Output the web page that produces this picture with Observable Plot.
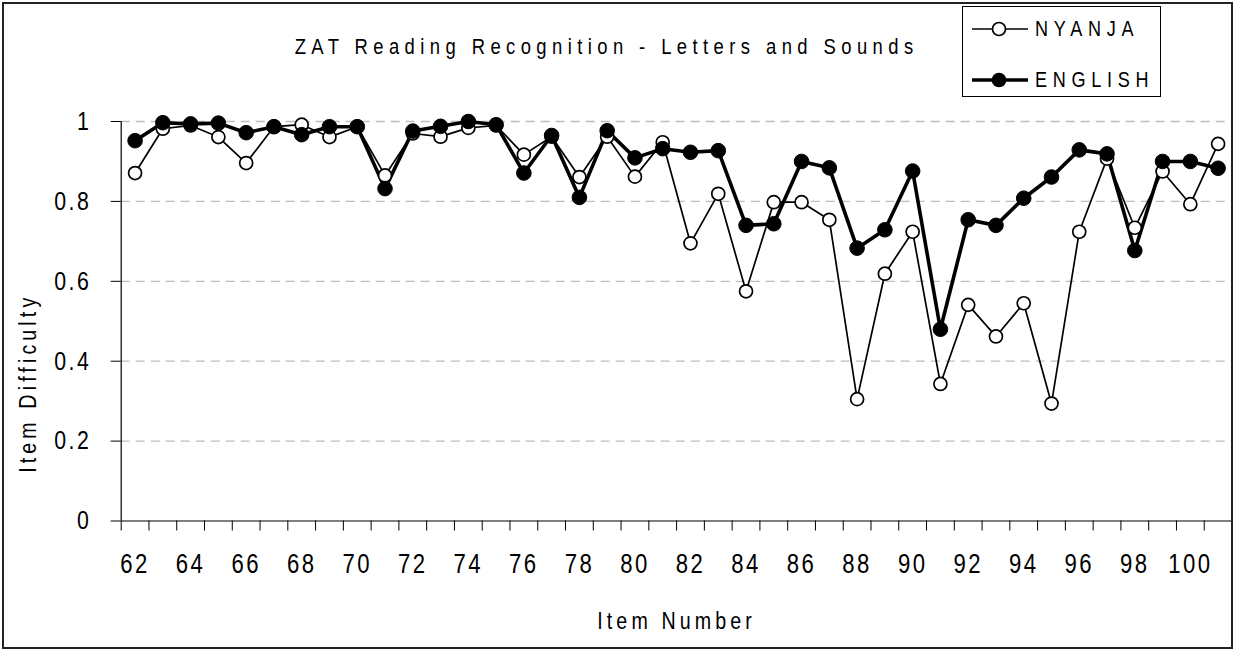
<!DOCTYPE html>
<html><head><meta charset="utf-8">
<script src="https://cdn.jsdelivr.net/npm/d3@7"></script>
<script src="https://cdn.jsdelivr.net/npm/@observablehq/plot@0.6"></script>
<style>
body{margin:0;background:#fff;}
#wrap{position:relative;width:1233px;height:649px;overflow:hidden;font-family:"Liberation Sans",Arial,sans-serif;}
#wrap svg text{letter-spacing:3px;}
#border{position:absolute;left:2px;top:2px;width:1227px;height:643px;border:2px solid #222;pointer-events:none;}
#legend{position:absolute;left:962px;top:6px;width:197px;height:89px;border:1px solid #000;background:#fff;}
.lg{position:absolute;left:8px;height:30px;display:flex;align-items:center;font-size:22px;color:#000;white-space:nowrap;}
.lg svg{margin-right:6px;flex:none;}
.lg span{display:inline-block;letter-spacing:7px;transform:scaleX(0.82);transform-origin:left center;}
</style></head>
<body><div id="wrap"><div id="border"></div></div>
<script>
const title = "ZAT Reading Recognition - Letters and Sounds";
const xLabel = "Item Number";
const yLabel = "Item Difficulty";
const seriesNames = ["NYANJA", "ENGLISH"];
const items = [62,63,64,65,66,67,68,69,70,71,72,73,74,75,76,77,78,79,80,81,82,83,84,85,86,87,88,89,90,91,92,93,94,95,96,97,98,99,100,101];
const nyanja = [0.871,0.982,0.99,0.961,0.896,0.987,0.992,0.961,0.987,0.865,0.97,0.962,0.984,0.99,0.917,0.962,0.861,0.962,0.862,0.948,0.695,0.819,0.575,0.798,0.798,0.754,0.305,0.619,0.724,0.343,0.541,0.462,0.545,0.294,0.724,0.907,0.734,0.875,0.793,0.944];
const english = [0.952,0.997,0.994,0.996,0.972,0.987,0.967,0.987,0.987,0.832,0.976,0.988,1.0,0.992,0.871,0.965,0.81,0.977,0.909,0.932,0.923,0.927,0.74,0.744,0.90,0.884,0.683,0.729,0.876,0.48,0.754,0.74,0.808,0.861,0.929,0.919,0.677,0.90,0.90,0.883];
const xTickLabels = [62,64,66,68,70,72,74,76,78,80,82,84,86,88,90,92,94,96,98,100];
const yTicks = [0,0.2,0.4,0.6,0.8,1];
const yGrid = [0.2,0.4,0.6,0.8,1];

const ny = items.map((item,i)=>({item, value:nyanja[i], series:seriesNames[0]}));
const en = items.map((item,i)=>({item, value:english[i], series:seriesNames[1]}));
const xDomain = [items[0]-0.5, items[items.length-1]+0.5];
const boundaries = d3.range(xDomain[0], xDomain[1]+0.01, 1);
const FONT = '"Liberation Sans",Arial,sans-serif';

const chart = Plot.plot({
  width:1233, height:649,
  marginLeft:120.7, marginRight:1.5, marginTop:121, marginBottom:128.5,
  style:{fontFamily:FONT, fontSize:"25px", color:"#000", background:"transparent", overflow:"visible"},
  x:{domain:xDomain, axis:null},
  y:{domain:[0,1], axis:null},
  marks:[
    Plot.gridY(yGrid, {stroke:"#bdbdbd", strokeOpacity:1, strokeDasharray:"9,6", strokeWidth:1.3}),
    Plot.axisX(boundaries, {tickSize:10, text:null, label:null, stroke:"#000", strokeOpacity:1}),
    Plot.axisX(xTickLabels, {tickSize:0, tickPadding:33, fontSize:27, label:null, tickFormat:d=>String(d)}),
    Plot.axisY(yTicks, {tickSize:10, tickPadding:20, fontSize:26, label:null, tickFormat:d=>String(d), strokeOpacity:1}),
    Plot.ruleY([0], {x1:xDomain[0], x2:xDomain[1], stroke:"#000", strokeWidth:1.2}),
    Plot.ruleX([xDomain[0]], {y1:0, y2:1, stroke:"#000", strokeWidth:1.2}),
    Plot.line(ny, {x:"item", y:"value", stroke:"#000", strokeWidth:1.7}),
    Plot.line(en, {x:"item", y:"value", stroke:"#000", strokeWidth:3.6}),
    Plot.dot(ny, {x:"item", y:"value", r:6.5, fill:"#fff", stroke:"#000", strokeWidth:1.7}),
    Plot.dot(en, {x:"item", y:"value", r:7.3, fill:"#000", stroke:"#000", strokeWidth:1}),
    Plot.text([title], {frameAnchor:"top", textAnchor:"middle", dx:-70, dy:-83, fontSize:22.5, text:d=>d}),
    Plot.text([xLabel], {frameAnchor:"bottom", textAnchor:"middle", dy:108, fontSize:24, text:d=>d}),
    Plot.text([yLabel], {frameAnchor:"left", textAnchor:"middle", dx:-92.7, dy:62, rotate:-90, fontSize:24, text:d=>d})
  ]
});

// condense glyphs horizontally around each text's anchor (narrow typeface look)
const SX = 0.82;
chart.querySelectorAll("text").forEach(t=>{
  const content = t.textContent;
  if (content === title) t.style.letterSpacing = "6.6px";
  if (content === xLabel || content === yLabel) t.style.letterSpacing = "5px";
  const tr = t.getAttribute("transform");
  if (tr) t.setAttribute("transform", tr + ` scale(${SX},1)`);
  else {
    const x = +(t.getAttribute("x")||0), y = +(t.getAttribute("y")||0);
    t.setAttribute("transform", `translate(${x},${y}) scale(${SX},1) translate(${-x},${-y})`);
  }
});

const wrap = document.getElementById("wrap");
wrap.insertBefore(chart, wrap.firstChild);

const legend = document.createElement("div");
legend.id = "legend";
legend.innerHTML = `
<div class="lg" style="top:7px"><svg width="58" height="20"><line x1="1" x2="57" y1="10" y2="10" stroke="#000" stroke-width="1.7"/><circle cx="28" cy="10" r="6.5" fill="#fff" stroke="#000" stroke-width="1.7"/></svg><span>${seriesNames[0]}</span></div>
<div class="lg" style="top:58px"><svg width="58" height="20"><line x1="1" x2="57" y1="10" y2="10" stroke="#000" stroke-width="3.6"/><circle cx="28" cy="10" r="7.3" fill="#000"/></svg><span>${seriesNames[1]}</span></div>`;
wrap.appendChild(legend);
</script>
</body></html>
